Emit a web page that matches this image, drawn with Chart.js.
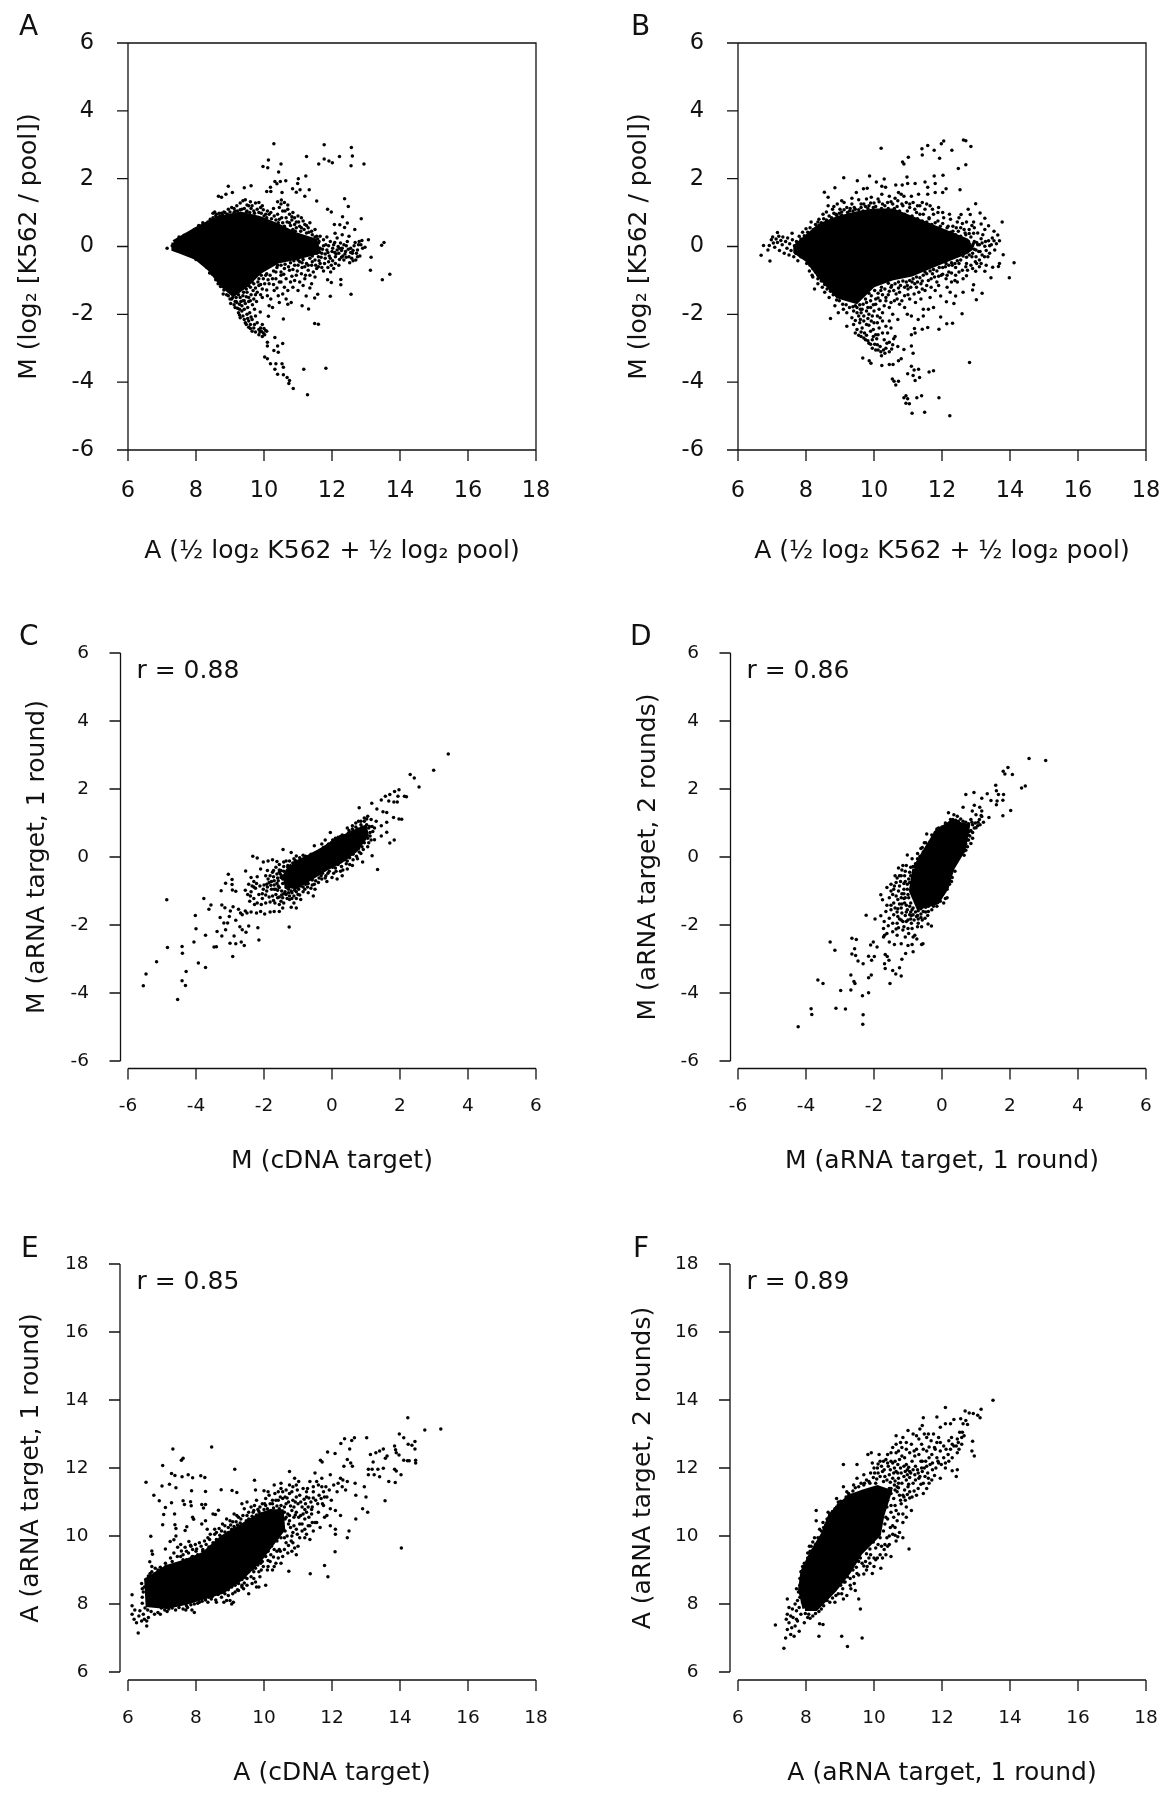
<!DOCTYPE html>
<html>
<head>
<meta charset="utf-8">
<title>MA plots</title>
<script src="https://cdn.jsdelivr.net/npm/chart.js@4/dist/chart.umd.min.js"></script>
<style>
  html, body { margin: 0; background: #fff; overflow: hidden; }
  canvas { position: absolute; }
</style>
</head>
<body>
<script>
// Tick ranges
const rangeA = [6, 18];
const rangeM = [-6, 6];

// Solid areas where the dots overlap completely are kept as traced outlines (core*),
// the dots that can still be told apart are in dots*, fringe* and extra*.
const coreA = [[7.35,.12],[8.11,.56],[8.66,.83],[9.31,.96],[9.86,.83],[10.4,.61],[10.95,.34],[11.49,.17],[11.6,-.15],[10.95,-.32],[10.4,-.43],[9.86,-.75],[9.48,-1.13],[9.1,-1.41],[8.77,-1.13],[8.39,-.64],[8,-.32],[7.57,-.15],[7.35,-.07]];
const dotsA = [[7.15,-.05],[7.3,.02],[7.4,.12],[7.45,-.1],[7.55,.2],[7.6,-.12],[7.7,.25],[7.75,-.18],[7.85,.35],[7.95,-.22],[8.05,.48],[8.1,-.3],[8.2,.55],[8.3,-.45],[8.38,-.55],[8.35,.72],[8.45,-.68],
[10.29,3.03],[11.77,3],[12.57,2.92],[12.6,2.67],[12.22,2.65],[11.25,2.65],[11.77,2.58],[11.91,2.52],[12.01,2.47],[11.61,2.43],[12.56,2.38],[12.94,2.43],[10.13,2.55],[9.97,2.36],[10.11,2.32],[10.5,2.43],[10.43,2.2],[11.23,2.08],[10.32,1.92],[10.48,1.92],[10.64,1.94],[11.01,2],[10.99,1.86],[10.38,1.85],[10.19,1.75],[10.08,1.62],[10.2,1.62],[10.53,1.59],[10.84,1.7],[11.06,1.67],[11.33,1.67],[10.95,1.6],[11.2,1.48],[11.55,1.34],[8.66,1.48],[8.95,1.78],[9.07,1.59],[8.88,1.54],[9.42,1.73],[9.62,1.79],[8.75,1.45],[10.4,1.32],[10.51,1.37],[12.37,1.41],[12.48,1.18],[12.86,.82],[11.87,1.1],[11.98,1.02],[12.31,.88],[12.45,.69],[12.07,.65],[12.23,.64],[12.67,.5],[12.37,.56],[12.09,.39],[13.07,.2],[13.53,.12],[13.46,.04],[12.97,-.02],[13.15,-.32],[13.13,-.7],[13.7,-.82],[13.48,-.98],
[11.96,-.75],[11.87,-.98],[11.98,-1.06],[12.26,-.97],[12.26,-1.13],[11.95,-1.47],[12.56,-1.41],[11.58,-1.41],[11.49,-1.52],[11.24,-1.46],[11.12,-1.75],[11.31,-1.84],[10.57,-2.14],[11.49,-2.27],[11.6,-2.29],[9.89,-1.93],[10.13,-2.06],
[10.32,-2.68],[10.55,-2.86],[10.4,-2.93],[10.1,-2.82],[10.1,-2.93],[10.29,-3.07],[10.42,-3.12],[10.02,-3.26],[10.1,-3.31],[10.19,-3.46],[10.35,-3.46],[10.53,-3.46],[10.57,-3.56],[10.32,-3.62],[10.4,-3.77],[10.57,-3.78],[10.68,-3.86],[10.75,-3.95],[10.73,-4.04],[10.86,-4.19],[11.28,-4.37],[11.17,-3.62],[11.82,-3.59],
[8.6,.95],[8.7,.9],[8.75,.98],[8.65,.78],[8.85,.85],[8.95,1.1],[9.05,1.15],[9.15,1.05],[9.2,1.2],[9.3,1.28],[9.38,1.35],[9.45,1.38],[9.5,1.22],[9.35,1.1],[9.3,.95],[9.5,1.05],[9.65,1.2],[9.75,1.28],[9.85,1.3],[9.9,1.15],[9.7,1.05],[9.85,1],[10,.9],[10.1,1.05],[10.05,.95],[10.2,1],[10.3,.9],[10.4,.95],[10.45,1.15],[10.5,1.25],[10.6,1.3],[10.55,1.05],[10.7,1.1],[10.75,.95],[10.65,.85],[10.85,1],[10.9,.85],[11,.9],[11.1,.85],[11.15,.75],[11.2,.65],[11.3,.55],[11.35,.7],[11.4,.45],[11.5,.5],[11.05,.6],[10.95,.55],[10.85,.5],[11.1,.3],[11.25,.25],[11.4,.2],[11.6,.1],[11.75,.2],[11.85,.28],[11.95,.15],[10.45,.8],[10.55,.7],[10.75,.7],[11.55,.3],[9.1,.9],[8.85,1],
[11.1,-.1],[11.2,-.25],[11.3,-.05],[11.35,-.35],[11.45,-.15],[11.5,-.4],[11.6,-.3],[11.65,-.05],[11.7,-.2],[11.8,-.35],[11.85,-.1],[11.9,.02],[12,-.15],[12.05,.05],[12.1,-.3],[12.15,-.1],[12.2,-.2],[12.25,.1],[12.3,-.05],[12.35,-.4],[12.4,-.15],[12.45,.15],[12.5,-.3],[12.55,-.05],[12.6,-.2],[12.65,.02],[12.7,-.4],[12.75,-.1],[12.8,.15],[12.85,.05],[12.9,-.05],[12.75,-.3],[12.5,.3],[12.3,.35],[12.15,.25],[11.9,-.45],[12.1,-.5],[12.2,-.55],[11.65,-.5],[11.4,-.55],[11.2,-.6],[11,-.4],[10.9,-.55],[11.3,-.7],[11.45,-.75],[11.05,-.2],[11,.05],[11.15,.1],[11.7,-.62],[11.55,-.65],
[8.8,-1.4],[8.95,-1.45],[9.05,-1.55],[9.1,-1.4],[9.2,-1.65],[9.3,-1.5],[9.35,-1.75],[9.42,-1.6],[9.5,-1.35],[9.55,-1.5],[9.6,-1.2],[9.7,-1.1],[9.8,-1.35],[9.85,-.95],[9.95,-1.25],[10.05,-.85],[10.1,-1.45],[10.15,-1.1],[10.25,-.95],[10.3,-1.3],[10.35,-.75],[10.45,-1.05],[10.5,-.85],[10.55,-1.4],[10.65,-.95],[10.65,-1.55],[10.75,-.7],[10.85,-1.2],[10.95,-.85],[10.8,-1.65],[11,-1.3],[11.1,-.8],[11.15,-1.15],[11.4,-1.1],[11.5,-.9],[10.15,-1.75],[10.25,-1.8],[10.45,-1.65],[10.7,-1.7],
[9.15,-1.8],[9.25,-1.95],[9.35,-1.9],[9.3,-2.1],[9.42,-2.15],[9.5,-2],[9.55,-2.2],[9.48,-2.3],[9.6,-2.3],[9.65,-2.15],[9.7,-2.4],[9.75,-2.05],[9.55,-2.38],[9.8,-2.25],[9.85,-2.45],[9.85,-2.6],[9.92,-2.5],[9.95,-2.3],[10,-2.42],[10.02,-2.6],[10.08,-2.5],[9.75,-2.52],[9.95,-2.65],[9.65,-2.5]];
const fringeA = [[7.5,.28],[7.65,.33],[7.8,.38],[7.95,.5],[8.08,.62],[8.2,.7],[8.3,.65],[8.42,.8],[8.5,.85],[8.58,.9],[8.68,.98],[8.78,.92],[8.82,1.02],[8.92,.95],[9,1.02],[9.12,1],[9.22,1.05],[9.3,1.08],[9.42,1.12],[9.48,1.02],[9.58,1],[9.62,1.12],[9.72,.98],[9.8,1.1],[9.92,.98],[9.98,1.08],[10.08,.85],[10.15,.95],[10.22,.82],[10.35,.78],[10.42,.7],[10.52,.85],[10.6,.6],[10.68,.72],[10.78,.62],[10.82,.78],[10.92,.45],[11.02,.72],[11.08,.45],[11.18,.5],[11.25,.4],[11.32,.42],[11.42,.35],[11.5,.28],[11.58,.22],[11.65,.3],
[11.05,-.45],[11.15,-.38],[11.25,-.5],[11.32,-.2],[11.42,-.45],[11.55,-.2],[11.62,-.42],[11.72,-.08],[11.78,-.5],[11.82,.05],[11.92,-.28],[11.98,-.55],[12.02,-.42],[12.08,-.18],[12.18,0],[12.22,-.38],[12.28,-.12],[12.32,-.28],[12.42,-.32],[12.48,-.08],[12.52,-.48],[12.58,-.35],[12.62,-.12],[12.68,.12],[12.72,-.2],[12.78,.05],[12.82,-.28],[12.88,.18],[12.05,-.65],[11.88,-.62],[11.75,-.72],[11.35,-.85],[11.22,-.85],[11.12,-.62],[10.98,-.72],[10.85,-.68],[10.72,-.6],
[10.6,-.65],[10.5,-.75],[10.38,-.62],[10.28,-.72],[10.18,-.85],[10.08,-.8],[9.98,-.95],[9.92,-.85],[9.82,-1.05],[9.72,-.92],[9.65,-1.05],[9.55,-1.15],[9.48,-1.25],[9.4,-1.35],[9.32,-1.25],[9.25,-1.42],[9.18,-1.5],[9.08,-1.5],[9,-1.55],[8.9,-1.42],[8.82,-1.28],[8.72,-1.18],[8.65,-1.1],[8.58,-.98],[8.48,-.82],[8.4,-.78],[8.32,-.62],[8.22,-.5],[8.12,-.42],[8,-.38],[7.9,-.25],[7.8,-.22],[7.65,-.18],[7.5,-.12],
[9.02,-1.68],[9.12,-1.72],[9.18,-1.62],[9.22,-1.82],[9.28,-1.7],[9.32,-1.62],[9.38,-1.45],[9.42,-1.85],[9.45,-1.68],[9.52,-1.8],[9.55,-1.62],[9.58,-1.95],[9.62,-1.42],[9.66,-1.72],[9.7,-1.55],[9.72,-1.85],[9.78,-1.62],[9.75,-1.22],[9.85,-1.15],[9.9,-1.42],[9.95,-1.5],[10.02,-1.1],[10.08,-1.28],[10.2,-1.55],[10.28,-1.12],[10.38,-1.22],[10.42,-1.45],[10.5,-1.05],[10.6,-1.2],[10.7,-1.3],[10.78,-1.05],[10.9,-1],[11.05,-1.05],[11.2,-.95],[11.35,-1.22],[9.28,-2.02],[9.38,-2.05],[9.45,-2.25],[9.52,-2.12],[9.62,-2.08],[9.72,-2.3],[9.6,-2.42],[9.9,-2.4],[9.98,-2.55],[9.88,-2.52],[10.05,-2.48]];
const extraA = [[11.05,.12],[11.12,-.3],[11.18,.22],[11.22,-.12],[11.28,.12],[11.38,.02],[11.42,-.28],[11.48,.08],[11.58,-.12],[11.62,.15],[11.68,-.32],[11.75,.02],[11.8,-.22],[11.88,-.18],[11.95,-.35],[12.02,-.05],[12.08,.12],[12.12,-.22],[12.22,-.05],[12.28,-.32],[12.35,.05],[12.38,-.22],[12.42,.02],[12.55,-.18],[12.62,-.42],[11.52,-.55],[11.6,-.6],[11.3,-.55],[11.12,-.48],[11,-.55],[10.88,-.42],[10.78,-.48],[10.62,-.52],[10.5,-.55],[10.4,-.55],[9.6,1.32],[9.12,1.12],[9.22,.92],[9.55,1.2],[9.95,1.2],[10.28,1.12],[10.62,1.05],[10.82,.88],[10.95,.72],[11.1,.55],[11.25,.62],[10.7,1.22],[10.9,.65],[8.5,.98],[8.55,1.02],[9.68,-1.3],[9.9,-1.12],[10.12,-.98],[10.35,-.95],[10.58,-.82],[10.82,-.88],[9.38,-1.6],[9.48,-1.48],[9.6,-1.6],[9.75,-1.42],[9.28,-1.85],[9.15,-1.62]];

const coreB = [[7.7,0],[8.4,.61],[8.94,.83],[9.48,.96],[9.98,1.05],[10.56,1.05],[11.1,.83],[11.64,.61],[12.18,.39],[12.72,.17],[12.85,-.05],[12.72,-.15],[12.18,-.37],[11.64,-.59],[11.1,-.81],[10.56,-.92],[9.98,-1.13],[9.48,-1.62],[8.94,-1.46],[8.4,-.86],[8.05,-.4],[7.7,-.15]];
const dotsB = [[6.68,-.26],[6.75,.03],[6.94,-.43],[7.16,.41],[7.59,.39],[6.88,-.1],[6.92,.03],[6.98,.2],[7.02,.28],[7.04,.1],[7.08,-.02],[7.12,.22],[7.16,.12],[7.2,.3],[7.22,-.12],[7.26,.18],[7.3,.05],[7.32,.28],[7.36,-.2],[7.4,.15],[7.44,-.05],[7.46,.25],[7.5,-.25],[7.52,.08],[7.56,-.12],[7.6,.2],[7.64,-.3],[7.66,.02],[7.7,-.2],[7.72,.15],[7.76,-.42],[7.8,.3],[7.85,-.3],[7.9,.42],[8,.52],[8.15,.72],[8.02,-.5],[8.1,-.72],[8.18,-.85],[8.25,-1.25],[8.35,-1.1],[8.48,-1.2],[8.38,.8],[8.5,.95],[8.65,1.2],
[10.21,2.9],[11.01,2.63],[10.84,2.49],[10.88,2.43],[11.41,2.88],[11.42,2.7],[11.58,2.98],[11.77,2.84],[11.98,3.03],[12.05,3.11],[12.29,2.84],[11.93,2.6],[12.63,3.14],[12.7,3.12],[12.85,2.95],[12.7,2.41],[12.48,2.3],[12.53,1.67],[11.77,2.08],[12.03,2.1],[9.11,2.03],[9.87,2.08],[9.51,1.94],[10.07,1.9],[10.3,1.99],[10.97,2.05],[8.54,1.6],[8.85,1.73],[10.64,1.81],[10.83,1.81],[10.99,1.86],[11.21,1.86],[11.5,1.9],[11.58,1.75],[11.8,1.86],[10.23,1.78],[10.34,1.75],[9.69,1.7],[9.8,1.72],[9.48,1.59],[10.23,1.54],[10.45,1.48],[10.72,1.59],[10.8,1.54],[10.88,1.48],[11.1,1.48],[11.31,1.54],[11.58,1.54],[11.8,1.59],[12.12,1.7],[12.02,1.59],
[13.77,.72],[12.99,1.26],[13.12,.99],[13.26,.83],[12.77,1.1],[12.83,.94],[12.56,.94],[12.45,.72],[12.72,.72],[12.93,.72],[13.15,.66],[13.37,.61],[13.26,.5],[13.53,.45],[13.64,.34],[13.69,.17],[13.53,.17],[13.37,.17],[13.15,.23],[12.93,.39],[13.26,.01],[13.8,-.24],[14.12,-.48],[13.98,-.92],[13.69,-.5],[13.66,-.59],[13.49,-.61],[13.44,-.92],[13.26,-.73],[12.99,-.73],[12.93,-1.13],[12.9,-1.28],[13.01,-1.57],[13.18,-1.38],[12.72,-.86],[12.59,-1.98],[12.62,-1.35],[12.4,-1.46],[12.24,-1.35],[12.35,-1.68],[12.13,-1.63],[11.96,-1.46],[12.31,-2.26],[12.14,-2.28],[11.96,-2.08],[11.91,-2.44],[11.58,-2.39],[11.42,-2.44],[11.21,-2.55],[11.19,-2.42],[11.1,-2.6],[12.81,-3.42],
[12.23,-4.99],[11.91,-4.46],[11.49,-4.89],[11.12,-4.92],[11.4,-4.4],[11.26,-4.46],[10.94,-4.4],[10.99,-4.49],[10.94,-4.62],[11.04,-4.64],[10.88,-4.46],[10.54,-3.91],[10.59,-3.97],[10.64,-4.08],[10.72,-3.97],[11.1,-3.53],[11.18,-3.64],[11.31,-3.62],[11.15,-3.8],[11.34,-3.86],[11.21,-3.95],[10.99,-3.75],[11.62,-3.7],[11.75,-3.66],[11.1,-2.93],[10.88,-3.04],[11.15,-3.15],[10.8,-3.31],[10.72,-3.37],[10.45,-3.48],[10.23,-3.51],[9.91,-3.44],[9.86,-3.37],[9.67,-3.29],[10.56,-3.48],
[8.65,1.45],[8.78,1.1],[8.88,.95],[8.92,1.25],[9,1.1],[9.05,1.02],[9.12,1.3],[9.2,1.15],[9.28,1.05],[9.35,1.25],[9.42,1.15],[9.55,1.38],[9.62,1.15],[9.7,1.25],[9.78,1.4],[9.85,1.2],[9.92,1.45],[10,1.28],[10.12,1.4],[10.25,1.25],[10.4,1.3],[10.55,1.25],[10.7,1.35],[10.85,1.2],[10.95,1.3],[11.05,1.15],[11.15,1.3],[11.25,1],[11.35,1.2],[11.45,.95],[11.55,1.25],[11.62,.85],[11.72,1.1],[11.8,.7],[11.88,1],[11.95,.6],[12.05,.85],[12.15,.55],[12.25,.8],[12.32,.45],[12.4,.35],[12.55,.55],[12.68,.4],[12.8,.5],[12.95,.15],[13.05,.05],[12.9,-.2],[13,-.3],[13.12,-.15],[13.25,-.3],[13.4,-.2],[13.55,-.1],
[8.2,-.9],[8.35,-.85],[8.55,-1.35],[8.68,-1.5],[8.72,-2.12],[8.85,-1.75],[8.95,-1.95],[9.1,-1.85],[9.2,-2.35],[9.2,-1.95],[12.1,-.6],[12.2,-.75],[12.3,-.55],[12.4,-.85],[12.5,-.5],[12.6,-.7],[12.72,-.5],[12.85,-.55],[12.45,-1.05],[12.28,-1.05],[12.12,-.95],[11.98,-.85],[11.85,-1.05],[11.72,-.8],[11.6,-1],[11.5,-.75],[11.38,-1.1],[11.25,-1.2],[11.12,-1.05],[11,-1.25],[10.9,-1.45],[10.78,-1.15],[10.65,-1.4],[10.5,-1.2],[10.35,-1.5],[10.2,-1.3],[10.05,-1.55],[9.9,-1.6],[9.75,-1.55],[9.6,-1.85],[9.45,-1.75],[11.8,-1.3],[11.65,-1.5],[11.5,-1.3],[11.38,-1.55],[11.22,-1.65],[11.45,-1.85],[11.6,-1.85],[11.75,-1.8],[11.05,-1.55],[10.9,-1.8],[10.75,-1.7],[10.6,-1.6],[10.45,-1.8],[10.3,-1.75],[10.15,-1.85],[11.1,-2.05],[10.98,-2],[11.3,-2.15],[11.45,-2.05],[10.7,-2.15],[10.55,-2],[10.45,-2.2],
[9.35,-2.1],[9.4,-2.3],[9.5,-2.45],[9.6,-2.15],[9.65,-2.4],[9.72,-2.55],[9.78,-2.3],[9.85,-2],[9.9,-2.5],[9.95,-2.75],[10,-2.25],[10.05,-2.6],[10.1,-2.9],[10.15,-2.4],[10.2,-3.1],[10.25,-2.2],[10.3,-2.75],[10.35,-3],[10.4,-2.55],[10.45,-3.1],[10.5,-2.4],[10.55,-2.9],[10.62,-2.65],[10.7,-2.95],[9.75,-2.75],[9.85,-2.85],[9.95,-3],[10.05,-3.05]];
const fringeB = [[7.75,.12],[7.85,.22],[7.95,.32],[8.05,.42],[8.12,.55],[8.22,.5],[8.28,.65],[8.35,.72],[8.45,.7],[8.52,.82],[8.6,.78],[8.68,.9],[8.75,.85],[8.82,.98],[8.9,.92],[8.98,.98],[9.05,.92],[9.12,1.08],[9.22,1],[9.3,1.12],[9.38,1.05],[9.45,1.1],[9.55,1.08],[9.62,1.25],[9.68,1.05],[9.75,1.18],[9.82,1.12],[9.9,1.28],[9.98,1.15],[10.05,1.18],[10.15,1.32],[10.22,1.12],[10.32,1.2],[10.42,1.12],[10.5,1.32],[10.6,1.12],[10.68,1.18],[10.75,1.05],[10.82,1.25],[10.9,.95],[10.98,1.05],[11.05,1.25],[11.12,.9],[11.2,1.1],[11.28,.82],[11.35,.95],[11.42,.75],[11.5,1.1],[11.55,.72],[11.62,.82],[11.7,.65],[11.75,.95],[11.82,.55],[11.88,.75],[11.95,.5],[12.02,.68],[12.1,.45],[12.18,.6],[12.25,.42],[12.32,.6],[12.4,.28],[12.48,.45],[12.55,.3],[12.62,.22],[12.7,.35],[12.78,.15],[12.85,.28],[12.92,.08],
[12.95,-.08],[13.02,.12],[13.08,-.15],[13.18,.1],[13.3,-.12],[13.45,.05],[13.1,-.4],[12.98,-.45],[12.88,-.3],[12.8,-.25],[12.72,-.32],[12.62,-.28],[12.55,-.4],[12.45,-.42],[12.38,-.5],[12.28,-.48],[12.2,-.55],[12.12,-.5],[12.02,-.62],[11.92,-.62],[11.85,-.72],[11.75,-.68],[11.65,-.72],[11.55,-.8],[11.45,-.85],[11.35,-.92],[11.25,-.9],[11.15,-.95],[11.05,-1],[10.95,-1.05],[10.85,-1.02],[10.72,-1.05],[10.62,-1.1],[10.52,-1.15],[10.42,-1.08],[10.32,-1.25],[10.22,-1.2],[10.12,-1.38],[10.02,-1.3],[9.92,-1.45],[9.85,-1.38],[9.78,-1.65],[9.68,-1.7],[9.58,-1.72],[9.5,-1.8],[9.38,-1.78],[9.28,-1.8],[9.18,-1.72],[9.08,-1.7],[8.98,-1.6],[8.9,-1.58],[8.8,-1.42],[8.72,-1.32],[8.62,-1.25],[8.55,-1.12],[8.45,-1.02],[8.35,-.95],[8.28,-.75],[8.2,-.65],[8.12,-.55],[8.02,-.4],[7.92,-.3],[7.82,-.25],
[9.4,-1.9],[9.5,-1.95],[9.55,-2.05],[9.62,-1.95],[9.7,-2.05],[9.78,-1.9],[9.82,-2.12],[9.9,-1.8],[9.95,-2.05],[10,-1.9],[10.05,-1.7],[10.1,-2.05],[10.18,-1.6],[10.25,-1.95],[10.35,-1.6],[10.42,-1.42],[10.5,-1.65],[10.58,-1.3],[10.68,-1.55],[10.75,-1.35],[10.82,-1.6],[10.9,-1.2],[11,-1.42],[11.08,-1.2],[11.18,-1.4],[11.28,-1.05],[11.32,-1.35],[11.42,-1.25],[11.55,-1.15],[11.68,-1.2],[11.78,-.9],[11.9,-1.15],[12.02,-.82],[12.15,-1.2],[12.28,-.78],[12.38,-1],[12.5,-.75],[12.62,-.95],[12.75,-.7],[12.9,-.65],[13.1,-.6],[13.3,-.55],
[9.45,-2.55],[9.55,-2.62],[9.62,-2.65],[9.7,-2.7],[9.78,-2.62],[9.82,-2.78],[9.9,-2.88],[9.98,-2.65],[10.02,-2.88],[10.08,-2.72],[10.12,-3.05],[10.18,-2.95],[10.22,-3.22],[10.28,-3.05],[10.32,-3.15],[10.38,-2.85],[10.45,-2.82],[10.52,-3.02],[10.58,-2.72]];
const extraB = [[12.9,.02],[13,-.1],[13.1,.05],[13.18,-.25],[13.28,.15],[13.35,-.3],[13.4,.02],[13.48,.25],[13.6,.08],[13.2,.35],[13.05,.4],[12.95,.55],[13.02,-.5],[13.15,-.5],[12.65,.5],[12.8,.38],[12.88,.62],[12.6,.68],[12.42,.55],[12.5,.85],[12.22,.95],[12.02,1],[11.9,1.15],[11.65,1.2],[11.42,1.3],[11.28,1.2],[10.62,1.42],[9.35,1.42],[9.05,1.35],[8.82,1.18],[8.6,1.02],[12.7,-.6],[12.4,-.62],[12.15,-.85],[11.9,-.88],[11.68,-.95],[11.42,-1.02],[11.2,-1.1],[10.98,-1.15],[10.72,-1.22],[10.45,-1.32],[10.25,-1.42],[10.12,-1.52],[9.98,-1.72],[9.82,-1.8],[9.65,-1.85],[9.7,-2.2],[9.58,-2.25],[9.45,-2.18],[9.92,-2.2],[10.1,-2.25],[10.18,-2.1],[9.85,-2.32],[9.98,-2.45],[10.12,-2.6],[10.25,-2.55],[9.62,-2.52],[10.35,-2.35]];

const coreC = [[-1.17,-.23],[-.73,-.03],[-.29,.21],[.14,.48],[.58,.7],[.96,.86],[1.01,.64],[.69,.21],[.25,-.12],[-.19,-.34],[-.62,-.61],[-1.06,-.88],[-1.33,-.83],[-1.38,-.56]];
const dotsC = [[3.42,3.03],[2.99,2.55],[2.3,2.43],[2.42,2.32],[2.56,2.06],[1.97,1.98],[1.84,1.93],[1.7,1.84],[1.57,1.79],[1.45,1.68],[2.13,1.79],[2.19,1.77],[1.94,1.79],[1.82,1.62],[1.92,1.62],[1.67,1.65],[1.17,1.58],[1.32,1.41],[.8,1.45],[1.5,1.33],[1.61,1.31],[1.81,1.16],[1.97,1.12],[2.05,1.11],[1.61,1.02],[1.45,.92],[1.61,.73],[1.45,.62],[1.83,.5],[1.7,.41],[1.25,.51],[1.18,.04],[1.34,-.37],[.9,-.15],
[-4.86,-1.26],[-5.55,-3.79],[-5.47,-3.44],[-5.16,-3.08],[-4.84,-2.66],[-4.41,-2.63],[-4.4,-2.83],[-4.29,-3.37],[-4.41,-3.64],[-4.31,-3.78],[-4.54,-4.19],[-3.93,-3.12],[-3.72,-3.25],[-4.06,-2.5],[-4,-2.11],[-4.02,-1.72],[-3.77,-1.22],[-3.72,-2.3],[-3.62,-1.54],[-3.56,-1.41],[-3.47,-2.65],[-3.4,-2.64],[-3.38,-2.19],[-3.24,-2.32],[-3.29,-1.78],[-3.24,-1.41],[-3.15,-1.49],[-3.26,-.99],[-3.13,-.77],[-3.05,-.51],[-2.94,-.66],[-2.94,-.81],[-2.93,-.97],[-2.83,-1.01],[-3.18,-1.94],[-3.07,-1.94],[-3.13,-2.14],[-3.02,-1.75],[-2.99,-1.59],[-2.91,-1.46],[-3,-2.54],[-2.83,-2.55],[-2.88,-2.32],[-2.92,-2.93],[-2.83,-1.86],[-2.71,-2.05],[-2.67,-2.5],[-2.58,-2.6],[-2.64,-2.14],[-2.53,-2.21],[-2.45,-2.03],[-2.18,-2.08],[-2.15,-2.44],[-1.26,-2.06],[-2.69,-1.65],[-2.75,-1.54],[-2.64,-1.7],[-2.55,-1.59],
[-2.33,.02],[-2.2,-.03],[-2.54,-.41],[-2.38,-.6],[-2.3,-.72],[-2.2,-.58],[-2.1,-.35],[-2.02,-.15],[-1.88,-.12],[-1.75,-.08],[-1.62,-.13],[-1.44,.22],[-1.2,.13],[-1.05,.03],[-.85,.05],[-.52,.33],[-.3,.38],[-.05,.72],[.1,.55],[.15,.35],[-1.9,-.4],[-1.82,-.55],[-1.75,-.45],[-1.65,-.3],[-1.55,-.38],[-1.42,-.15],[-1.3,-.25],[-1.12,-.05],[-2.45,-.8],[-2.35,-.85],[-2.25,-.92],[-2.12,-.85],[-2,-.82],[-1.9,-.88],[-1.8,-.83],[-1.7,-.7],[-1.6,-.62],[-2.55,-.98],[-2.48,-1.1],[-2.4,-1.15],[-2.3,-1.22],[-2.42,-1.3],[-2.28,-1.4],[-2.15,-1.1],[-2.05,-1.08],[-1.95,-1.12],[-1.85,-1.18],[-1.75,-1.15],[-1.65,-1.1],[-1.55,-1.18],[-1.45,-1.2],[-1.35,-1.1],[-1.25,-1.15],[-1.12,-1.15],[-1,-1.1],[-.85,-1.02],[-.7,-1.05],[-.55,-1.15],[-.5,-.95],[-2.2,-1.35],[-2.08,-1.4],[-1.95,-1.35],[-1.82,-1.32],[-1.68,-1.35],[-1.55,-1.4],[-1.42,-1.35],[-1.25,-1.25],[-1.12,-1.35],[-1.05,-1.5],[-1.2,-1.48],[-1.45,-1.5],[-1.7,-1.6],[-1.55,-1.6],[-1.82,-1.62],[-1.98,-1.68],[-2.1,-1.6],[-2.22,-1.65],[-2.38,-1.62],[-2.5,-1.65],[-.3,-.65],[-.15,-.72],[0,-.6],[.15,-.65],[.3,-.55],[.45,-.35],[.6,-.25],[.75,-.05],[.85,.1],[1.05,.3],[1.15,.5],[1.2,.75],[1.3,1.05],[1.15,1.1],[1.05,1.2],[.95,1.15],[.85,1.05],[.7,1],[1.1,.9],[1.25,.85],[-.2,.5],[.3,.65],[.45,.85],[.6,.92],[-1.5,-.6],[-1.58,-.85],[-1.48,-1],[-1.7,-.95]];
const fringeC = [[-1.42,-.42],[-1.38,-.65],[-1.45,-.78],[-1.48,-.55],[-1.3,-.3],[-1.28,-.95],[-1.2,-1],[-1.15,-.18],[-1.1,-.98],[-1.02,-.15],[-.98,-.95],[-.9,-.08],[-.92,-.85],[-.82,-.12],[-.78,-.8],[-.7,0],[-.7,-.78],[-.6,-.02],[-.58,-.82],[-.5,.1],[-.48,-.7],[-.42,.03],[-.38,-.62],[-.32,.22],[-.25,.28],[-.28,-.48],[-.18,.25],[-.18,-.55],[-.1,.38],[-.08,-.42],[-.02,.42],[.02,-.3],[.08,.5],[.1,-.32],[.18,.58],[.18,-.22],[.25,.6],[.28,-.28],[.32,.52],[.38,-.08],[.42,.62],[.45,-.12],[.5,.78],[.52,-.02],[.6,.82],[.62,.08],[.7,.88],[.72,.02],[.78,1.05],[.78,.25],[.85,.95],[.88,.3],[.95,1.05],[.95,.42],[1.02,1.12],[1.05,.55],[1.08,.85],[1.12,.72],[1.18,.9],[.85,.62],[-1.62,-.78],[-1.72,-.58],[-1.55,-.9],[-1.65,-.95],[-1.52,-.5],[-1.78,-.72],[-1.88,-.65],[-1.38,-1.02],[-1.28,-1.05],[-1.18,-1.05],[-1.05,-1.02],[-.95,-1.12],[-.8,-.95],[-.62,-.92],[-1.6,-.98],[-1.92,-1],[-2.02,-.95],[-2.22,-.78],[-2.3,-.88],[-2.38,-1.02],[-2.05,-1.22],[-1.72,-1.28],[-1.5,-1.3],[-.4,-.75],[-.2,-.62],[.05,-.48],[.25,-.42],[.42,-.2],[-1.35,-.12],[-1.55,-.22],[-1.25,-.12]];
const extraC = [[-1.95,-.55],[-1.85,-.75],[-1.78,-.95],[-1.92,-.8],[-1.7,-.82],[-1.62,-.5],[-1.72,-.4],[-1.58,-.7],[-1.45,-.65],[-1.5,-.4],[-1.42,-1.08],[-1.35,-.9],[-1.32,-.4],[-1.22,-.35],[-1.12,-.3],[-1.6,-1.2],[-1.48,-1.12],[-1.32,-1.22],[-1.18,-1.22],[-1.05,-1.22],[-.92,-1.25],[-.85,-.88],[-.72,-.88],[-.52,-.8],[-.58,-.68],[-.32,-.55],[-.12,-.48],[.12,-.42],[.32,-.38],[.52,-.22],[.62,-.08],[.8,.15],[.92,.22],[1.08,.42],[1.12,.62],[.95,.72],[1.02,.95],[.88,.88],[.75,.82],[.62,.75],[.48,.7],[.35,.62],[.02,.5],[-.12,.35],[-.38,.12],[-.62,.08],[-.78,.02],[-.95,-.02],[-1.08,-.1],[-1.42,-.28],[-1.55,-.45]];

const coreD = [[-.8,-.34],[-.47,.21],[-.14,.75],[.29,1.02],[.75,.9],[.62,.21],[.29,-.34],[.13,-.88],[-.14,-1.32],[-.69,-1.48],[-.9,-.99]];
const dotsD = [[2.56,2.9],[3.05,2.84],[1.94,2.63],[1.8,2.52],[1.85,2.44],[2.07,2.43],[2.45,2.09],[2.34,2.03],[1.58,2.11],[1.6,1.95],[1.66,1.84],[1.81,1.84],[1.33,1.86],[.94,1.9],[.7,1.84],[1.17,1.73],[1.44,1.66],[1.62,1.65],[1.79,1.67],[1.6,1.54],[2.02,1.37],[1.79,1.21],[1.38,1.16],[1.11,1.46],[.95,1.52],[1.17,1.35],[.89,1.35],[1,1.24],[1.17,1.19],[1.06,1.02],[1.22,1.02],[1,.86],[.19,1.3],[.35,1.24],[.62,1.46],[.85,1.1],[.9,.95],[.8,.75],[.75,.5],[.7,.2],[.45,1.2],[.25,1.1],[.1,1],[-.1,.85],[-.2,.72],[-.45,.68],[-.3,.65],[-.52,.42],[-.62,.25],[-1.02,.06],[-.88,-.05],[-.72,.1],
[-4.23,-4.99],[-3.85,-4.46],[-3.83,-4.63],[-3.65,-3.62],[-3.5,-3.72],[-3.29,-2.5],[-3.15,-2.74],[-2.98,-3.93],[-3.12,-4.45],[-2.84,-4.47],[-2.68,-3.91],[-2.68,-3.47],[-2.59,-3.66],[-2.56,-3.72],[-2.65,-2.39],[-2.52,-2.43],[-2.57,-2.7],[-2.65,-2.85],[-2.54,-2.9],[-2.47,-3.06],[-2.32,-3.14],[-2.34,-4.08],[-2.32,-4.64],[-2.33,-4.92],[-2.16,-3.99],[-2.16,-3.55],[-2.08,-3.47],[-2.1,-2.59],[-2.02,-2.5],[-1.91,-2.65],[-2.16,-2.92],[-2.07,-3.04],[-1.99,-2.93],[-2.23,-1.71],[-1.97,-1.82],[-1.8,-1.11],[-1.75,-1.26],[-1.8,-1.73],[-1.72,-2.1],[-1.69,-2.3],[-1.72,-2.35],[-1.67,-2.87],[-1.69,-3.14],[-1.67,-3.28],[-1.53,-3.72],[-1.56,-3.04],[-1.61,-2.93],[-1.45,-3.34],[-1.36,-3.44],[-1.2,-3.5],[-1.25,-3.26],[-1.4,-2.57],[-1.18,-3.01],[-1.07,-2.84],[-.85,-2.79],[-.88,-2.57],[-.6,-2.57],[-.56,-2.55],[-.85,-2.35],[-.74,-2.41],[-.8,-2.3],[-.41,-1.97],[-.31,-2.03],
[-1.5,-.8],[-1.42,-.95],[-1.35,-1.15],[-1.55,-1.2],[-1.62,-1.42],[-1.5,-1.55],[-1.42,-1.35],[-1.3,-1.52],[-1.2,-1.2],[-1.12,-.95],[-1.02,-.8],[-1.1,-.55],[-1.18,-.38],[-1.05,-.25],[-.95,-.45],[-.98,-.65],[-.9,-.9],[-1,-1.1],[-1.1,-1.35],[-1.2,-1.5],[-1.3,-1.75],[-1.42,-1.7],[-1.55,-1.8],[-1.65,-1.6],[-1.7,-1.9],[-1.58,-2.02],[-1.45,-1.95],[-1.32,-1.95],[-1.2,-1.85],[-1.12,-2.05],[-1,-2.1],[-.9,-1.95],[-.95,-1.7],[-1.02,-1.55],[-.88,-1.55],[-.75,-1.75],[-.62,-1.68],[-.5,-1.8],[-.4,-1.6],[-.25,-1.45],[-.12,-1.25],[.02,-1.1],[.15,-.95],[.15,-1.2],[.22,-.8],[.05,-.85],[-1.45,-2.2],[-1.55,-2.5],[-1.32,-2.3],[-1.2,-2.55],[-1.08,-2.35],[-1,-2.6],[-.6,-2.05],[-.72,-2.05],[.3,-.35],[.45,-.05],[.55,.1],[.65,.05],[.4,.15],[.78,.65],[.9,.55],[.85,.4],[.62,.25]];
const fringeD = [[-.95,-.75],[-.92,-.55],[-1.02,-.95],[-.98,-1.2],[-.92,-1.35],[-.85,-1.5],[-.78,-1.62],[-.7,-1.58],[-.62,-1.52],[-.55,-1.6],[-.48,-1.48],[-.4,-1.45],[-.32,-1.4],[-.25,-1.28],[-.18,-1.35],[-.1,-1.15],[-.05,-1.02],[.02,-.92],[.08,-.75],[.15,-.72],[.2,-.55],[.25,-.48],[.32,-.28],[.38,-.2],[.42,-.08],[.48,.02],[.52,.12],[.6,.28],[.65,.18],[.7,.38],[.75,.3],[.78,.5],[.82,.62],[.85,.78],[.9,.72],[.95,.85],[.98,1],[1.05,.92],[1.1,1.1],[1.12,.95],[1.15,1.22],[.88,1.02],[.78,.98],[.7,1.02],[.62,1.05],[.55,1.12],[.48,1.05],[.4,1.08],[.32,1.1],[.22,1],[.15,.95],[.08,.9],[0,.88],[-.08,.7],[-.15,.82],[-.22,.62],[-.28,.52],[-.35,.45],[-.42,.32],[-.48,.42],[-.55,.15],[-.58,.28],[-.65,.02],[-.72,-.05],[-.78,-.2],[-.85,-.28],[-.92,-.3],[-1.08,-.72],[-1.12,-1.08],[-1.22,-.72],[-1.15,-.25],[-1.25,-.55],[-1.35,-.75],[-1.28,-1],[-1.08,-1.2],[-1.18,-1.38],[-.95,-1.45],[-.9,-1.72],[-.82,-1.85],[-.72,-1.72],[-.7,-1.95],[-.58,-1.85],[-.48,-1.62],[-1.05,-1.9],[-1.15,-2.15],[-1.28,-2.08],[-.98,-2.25],[-.88,-2.1],[-1.08,-1.72],[-1.35,-2.12],[-1.62,-2.25],[-1.5,-1.42],[-1.38,-.55],[-1.28,-.32],[-1.5,-1],[-1.62,-.9],[.1,-1.22],[.05,-1.35],[.3,-.6]];
const extraD = [[-1.08,-.42],[-1.12,-.78],[-1.2,-.55],[-1.25,-.85],[-1.32,-.62],[-1.4,-.85],[-1.45,-1.1],[-1.3,-1.25],[-1.18,-1.08],[-1.12,-1.22],[-1.05,-1.42],[-1.25,-1.38],[-1.38,-1.5],[-1.32,-1.62],[-1.18,-1.65],[-1.05,-1.62],[-.92,-1.62],[-.85,-1.7],[-.7,-1.82],[-.62,-1.78],[-.42,-1.72],[-.3,-1.55],[-.05,-1.3],[-.15,-1.45],[.08,-1.02],[.28,-.72],[.38,-.42],[-1,-1.85],[-.92,-1.82],[-1.15,-1.9],[-1.25,-1.82]];

const coreE = [[6.55,8.7],[7.13,9.07],[7.68,9.24],[8.22,9.46],[8.77,9.95],[9.31,10.27],[9.86,10.6],[10.19,10.71],[10.51,10.71],[10.55,10.2],[10.19,9.73],[9.86,9.29],[9.31,8.75],[8.77,8.37],[8.22,8.2],[7.68,8.04],[7.13,7.93],[6.59,7.98]];
const dotsE = [[15.2,13.15],[14.73,13.12],[14.23,13.48],[13.98,13],[14.11,12.89],[14.44,12.78],[14.24,12.7],[14.35,12.67],[14.44,12.56],[13.84,12.65],[13.87,12.54],[13.89,12.45],[13.97,12.38],[14.11,12.23],[14.22,12.21],[14.27,12.21],[14.46,12.23],[14.46,12.15],[14.03,11.8],[13.84,11.96],[13.89,11.91],[13.67,11.6],[13.86,11.57],[13.56,11.04],[14.04,9.65],[13.02,12.89],[13.13,12.4],[13.21,12.18],[13.29,12.45],[13.4,12.5],[13.51,12.56],[13.57,12.29],[13.62,12.35],[13.07,11.96],[13.18,11.96],[13.07,11.8],[13.24,11.8],[13.35,11.96],[13.51,11.99],[13.4,11.74],[12.66,12.89],[12.58,12.81],[12.37,12.86],[12.52,12.56],[12.26,12.72],[12.09,12.43],[11.87,12.47],[11.66,12.23],[11.71,12.18],[12.45,12.25],[12.55,12.15],[12.35,12.05],[12.6,12.05],
[6.53,11.58],[7.02,12.07],[7.32,12.56],[8.46,12.62],[7.62,12.29],[7.57,12.23],[9.14,11.96],[9.72,11.64],[7.28,11.84],[7.38,11.78],[7.59,11.74],[7.77,11.8],[7.9,11.71],[8.14,11.77],[8.26,11.72],[7,11.47],[7.22,11.52],[7.41,11.42],[6.76,11.2],[6.92,11.04],[7.28,10.98],[7.1,10.84],[7.62,11.04],[7.66,10.93],[7.84,11.01],[7.86,10.89],[7.87,11.33],[8.28,11.31],[8.74,11.36],[9.06,11.34],[9.2,11.28],[8.17,10.93],[8.28,10.93],[8.22,10.82],[8.66,10.76],[8.5,10.65],[8.57,10.63],[7.05,10.63],[7.37,10.65],[7.02,10.33],[7.38,10.33],[7.9,10.55],[7.93,10.49],[7.73,10.27],[7.68,10.16],[8.17,10.35],[8.28,10.45],[8.33,10.2],[6.67,9.99],[6.7,9.56],[6.72,9.46],[6.64,9.24],[7.1,9.62],[7.24,9.84],[7.35,9.89],[7.46,9.67],[7.57,9.56],[7.68,9.67],[7.79,9.84],[7.84,9.73],[7.41,10.22],[7.41,10],[9.12,10.65],[9.2,10.6],[9.35,10.95],[9.5,11],[9.75,11.35],[10,11.33],[10.15,11.2],[10.3,11.5],[10.5,11.4],
[8.85,10.3],[9,10.45],[8.55,10.2],[8.4,9.9],[8.2,9.6],[8,9.55],[8.1,9.8],[7.9,9.4],[9.55,10.5],[9.7,10.75],[9.9,10.65],[10.05,10.9],[10.2,10.75],[10.35,11.05],[10.45,10.8],[10.55,11.1],[10.65,10.95],[10.75,11.25],[10.85,11.05],[10.95,11.5],[11.05,11.2],[10.9,11.7],[10.75,11.9],[11.15,11.4],[11.25,11.15],[11.35,11.6],[11.45,11.3],[11.5,11.85],[11.6,11.5],[11.7,11.7],[11.75,11.3],[11.85,11.15],[11.95,11.8],[12.05,11.5],[12.15,11.3],[12.25,11.7],[12.3,11.45],[12.45,11.6],[12.68,11.55],[12.7,11.2],[12.95,11.45],[13,11.15],[12.9,10.8],[13.05,10.7],[12.7,10.5],[12.5,10.15],[12.45,9.95],[12.25,10.6],[12.1,10.2],[12.1,10.05],[11.95,10.8],[11.85,10.6],[11.75,10.9],[11.6,10.7],[11.5,10.4],[11.4,10.65],[11.3,10.3],[11.2,10.5],[11.05,10.35],[11.05,9.95],[10.95,10.7],[10.85,10.1],[10.75,10.45],[10.65,9.8],[10.55,10.25],[10.45,9.6],[10.4,9.95],[10.3,9.1],[10.2,9.45],[10.1,9],[9.95,9.25],[9.85,8.95],[9.7,8.95],[9.5,8.75],[9.35,8.5],[9.15,8.35],[9,8.1],[9.55,8.3],[9.35,8.55],[8.95,8.25],[8.75,8.35],[8.45,8.15],[8.5,8.3],[8.1,8.05],[7.95,7.75],[7.75,7.9],[6.95,7.7],[7.15,7.78],[6.55,7.35],
[6.12,7.7],[6.18,7.55],[6.2,7.82],[6.25,7.45],[6.3,7.15],[6.32,7.65],[6.35,7.8],[6.4,7.5],[6.45,7.7],[6.48,7.55],[6.55,7.5],[6.6,7.6],[6.12,8.27],[6.12,7.95],[6.4,8.6],[6.42,8.2],[6.65,8.9],[6.8,9.05],[6.9,8.9],[11.36,8.89],[11.78,9.13],[11.88,8.8],[12.09,9.54],[10.73,8.96],[10.5,9.2],[10.95,9.45],[11,9.7],[10.7,9.5],[10.85,9.8],[11.2,9.95],[11.35,10.3],[10.05,8.55],[9.85,8.5],[10.25,9],[9.7,8.75]];
const fringeE = [[6.42,8.02],[6.5,7.88],[6.58,7.82],[6.68,7.78],[6.45,8.35],[6.48,8.5],[6.42,8.45],[6.52,8.72],[6.6,8.82],[6.7,8.95],[6.78,8.88],[6.88,9],[6.95,9.08],[7.05,8.98],[7.12,9.12],[7.22,9.05],[7.3,9.12],[7.38,9.05],[7.45,9.15],[7.52,9.2],[7.62,9.3],[7.72,9.3],[7.8,9.25],[7.88,9.38],[7.95,9.32],[8.05,9.45],[8.12,9.38],[8.2,9.55],[8.3,9.52],[8.38,9.68],[8.45,9.62],[8.5,9.8],[8.6,9.9],[8.7,10.02],[8.78,9.98],[8.85,10.12],[8.95,10.1],[9.05,10.2],[9.12,10.28],[9.22,10.32],[9.3,10.38],[9.4,10.3],[9.48,10.45],[9.58,10.38],[9.65,10.58],[9.78,10.62],[9.85,10.72],[9.92,10.6],[10,10.78],[10.1,10.8],[10.18,10.95],[10.28,10.82],[10.38,10.88],[10.5,10.9],[10.6,10.7],[10.62,10.5],[10.7,10.65],[10.72,10.35],[10.62,10.15],[10.68,10],[10.5,9.95],[10.38,9.85],[10.3,9.6],[10.22,9.7],[10.12,9.55],[10.05,9.4],[9.98,9.5],[9.9,9.2],[9.82,9.15],[9.75,9.05],[9.65,9.02],[9.55,8.95],[9.45,8.78],[9.35,8.72],[9.25,8.6],[9.15,8.55],[9.05,8.5],[8.95,8.42],[8.85,8.3],[8.75,8.2],[8.65,8.28],[8.58,8.12],[8.48,8.22],[8.38,8.2],[8.28,8.12],[8.18,8.08],[8.05,8.02],[7.95,8],[7.85,7.98],[7.72,7.95],[7.62,7.85],[7.5,7.9],[7.4,7.82],[7.3,7.88],[7.2,7.85],[7.08,7.82],[6.98,7.88],[6.88,7.75],[6.78,7.7],
[7.25,9.35],[7.35,9.5],[7.45,9.4],[7.55,9.75],[7.62,9.45],[7.72,9.55],[7.78,9.5],[7.9,9.6],[7.98,9.75],[8.15,9.7],[8.25,9.85],[8.35,9.95],[8.42,10.05],[8.55,10.05],[8.68,10.22],[8.78,10.35],[8.9,10.5],[8.95,10.25],[9.08,10.42],[9.25,10.55],[9.38,10.6],[9.42,10.8],[9.55,10.7],[9.62,10.85],[9.72,10.9],[9.78,11.05],[9.88,10.85],[9.95,10.95],[10.05,11.1],[10.12,11.3],[10.25,11.05],[10.32,11.25],[10.42,11.3],[10.55,11.3],[10.62,11.15],[10.72,11],[10.82,11.3],[10.82,10.75],[10.88,10.55],[10.92,11],[10.98,11.35],[11.02,11.6],[11.08,11],[11.12,10.85],[11.22,10.95],[11.28,11.4],[11.38,11],[11.42,10.85],[11.52,11.05],[11.55,11.6],[11.62,11.2],[11.72,10.95],[11.82,11.45],[11.92,11.35],[11.98,11.05],[12.1,10.75],[12.18,11.55],[12.32,11.65],[12.4,11.35],
[10.8,9.85],[10.9,9.65],[10.82,9.55],[10.6,9.6],[10.55,9.4],[10.42,9.35],[10.35,9.2],[10.18,9.25],[10.12,9.1],[9.98,9.1],[9.88,8.8],[9.75,8.65],[9.65,8.6],[9.78,8.5],[9.5,8.55],[9.4,8.45],[9.25,8.4],[9.08,8.3],[8.9,8.1],[8.82,8.05],[9.05,8],[9.1,8.05],[8.6,8.05],[8.35,8.05],[7.88,7.82],[7.7,7.82],[11.12,10.15],[11.25,10.05],[11.35,9.9],[11.45,10.15],[11.55,10.4],[11.65,10.25],[11.78,10.55],[11.95,10.3],[10.95,10.2],[11.02,10.55],[11.15,10.65],[11.25,10.7]];
const extraE = [[10.25,10.95],[10.42,11.05],[10.48,11.15],[10.6,10.85],[10.68,11.12],[10.78,10.88],[10.88,10.85],[10.92,10.62],[11,10.95],[11.08,10.6],[11.18,11.08],[11.2,10.78],[11.3,10.85],[11.32,11.12],[11.4,10.78],[11.45,11.12],[11.58,10.95],[11.68,11.1],[11.7,11.45],[11.78,11.15],[11.45,11.45],[11.25,11.3],[10.75,11.5],[10.85,11.45],[10.95,11.15],[10.5,11.55],[10.65,11.35],[10.88,10.3],[10.98,10.05],[10.78,10.25],[10.82,10],[10.65,10.55],[10.75,10.6],[11.12,10.35],[11.2,10.2],[11.32,10.55],[11.42,10.4],[10.6,9.95],[10.48,9.55],[10.72,9.72],[10.38,9.55],[10.28,9.38],[10.12,9.28],[9.92,9],[9.62,8.8],[9.42,8.62],[9.22,8.42],[7.85,9.7],[8.02,9.62],[8.3,9.75],[8.6,10.1],[8.75,10.15],[9.02,10.32],[9.18,10.42],[9.32,10.5],[9.5,10.6],[9.68,10.7],[9.82,10.78],[10.02,10.95],[7.1,9.2],[7.3,9.25],[7.55,9.4],[6.7,9.1]];

const coreF = [[7.97,7.87],[7.84,8.42],[7.91,8.96],[8.18,9.51],[8.51,10.05],[8.72,10.6],[9.26,11.14],[9.69,11.3],[10.1,11.42],[10.45,11.3],[10.23,10.6],[10.13,10.05],[9.59,9.51],[9.26,8.96],[8.83,8.42],[8.29,7.87]];
const dotsF = [[13.5,13.99],[13.15,13.73],[12.1,13.78],[12.92,13.6],[13.05,13.55],[12.68,13.68],[12.8,13.62],[13.12,13.48],[12.35,13.43],[12.55,13.45],[12.7,13.4],[12.62,13.3],[12.75,13.28],[12.1,13.3],[12.25,13.3],[11.85,13.5],[11.45,13.48],[12.9,12.79],[12.88,12.5],[12.95,12.35],[12.45,11.95],[12.3,11.92],[12.42,11.75],[12.1,12],[11.95,11.7],[12.58,12.9],[12.6,13.05],[12.45,12.85],[12.2,12.8],[12.35,12.65],[12.25,12.55],[12.05,12.65],[11.9,12.9],[11.75,13],[11.95,13.2],[11.6,13],[11.42,13.25],[11.35,13.15],[11.15,13],[11,13.1],[10.85,12.9],[10.65,12.7],[10.5,12.45],[10.65,12.95],[10.4,12.4],[10.5,12.2],[9.1,12.1],[9.5,12.1],[9.95,12.15],[9.82,12.4],[9.92,12.45],[10.15,12.4],[10.35,12.25],[11.25,12.95],[11.4,12.7],[11.1,12.7],[11.25,12.55],[11.55,12.5],[11.7,12.4],[11.85,12.3],[11.95,12.5],[11.65,12.1],[11.4,12],[11.5,11.75],[11.7,11.65],[11.55,11.4],[11.45,11.25],[11.25,11.2],[11.05,11.3],[11.15,11.55],[11.35,11.75],[11.15,11.95],[10.95,11.65],[10.8,11.85],[10.95,12.1],[10.75,12.25],[10.6,12],[10.45,11.8],[10.3,11.95],[10.1,12],[9.9,11.85],[9.7,11.8],[9.5,11.7],[9.7,11.5],[9.4,11.5],[9.1,11.45],[9.2,11.3],[10.9,11.35],[10.75,11.2],[10.6,11.5],[10.45,11.4],[10.8,10.95],[10.95,10.85],[11.1,10.75],[10.65,10.75],[10.5,10.9],[10.35,10.55],[10.55,10.3],[10.45,10],[10.85,10.4],[10.75,10.1],[10.85,9.95],[10.65,9.85],[10.4,9.7],[10.25,9.35],[10.5,9.4],[11.03,9.62],[10.2,9.05],[10.05,9.3],[9.9,9.45],[9.8,9.1],[9.95,8.9],[9.6,9.35],[9.55,8.85],[9.4,8.8],[9.45,8.4],[9.55,8.15],[9.6,7.85],[9.65,7],[9.05,7.05],[8.38,7.05],[9.22,6.75],[7.1,7.38],[8.4,7.42],[8.5,7.4],[8.85,8.05],[9.1,8.15],[8.6,8.2],[9.15,8.65],
[7.35,6.7],[7.4,7],[7.45,7.25],[7.42,7.55],[7.5,7.45],[7.55,7.1],[7.58,7.3],[7.62,7.6],[7.65,7.05],[7.68,7.35],[7.72,7.8],[7.75,7.5],[7.8,7.2],[7.45,8.15],[7.5,7.9],[7.75,8.1],[7.85,7.7],[7.95,7.45],[7.9,8.05],[8.08,7.7],[8.2,7.65],[7.72,8.45],[7.82,8.75],[7.9,8.85],[8.05,9.35],[8.1,9.7],[8.25,9.95],[8.4,10.2],[8.3,10.45],[8.5,10.4],[8.65,10.7],[8.6,10.15],[8.8,10.55],[8.9,10.85],[8.95,11],[9.05,10.9],[9.2,11.05],[9.5,11.2],[9.85,11.6],[10.05,11.55],[8.3,10.75],[8.9,11.1]];
const fringeF = [[7.45,7.7],[7.55,7.65],[7.6,7.85],[7.68,8],[7.72,7.55],[7.8,7.9],[7.82,8.2],[7.78,8.35],[7.82,8.55],[7.88,8.62],[7.85,8.95],[7.9,9.1],[7.95,9.2],[8,9.15],[8.05,9.5],[8.12,9.55],[8.15,9.7],[8.2,9.82],[8.28,9.75],[8.35,9.95],[8.42,9.95],[8.45,10.15],[8.52,10.25],[8.58,10.32],[8.62,10.5],[8.7,10.65],[8.78,10.72],[8.85,10.8],[8.95,10.92],[9.02,11.02],[9.1,11.02],[9.18,11.15],[9.25,11.25],[9.32,11.2],[9.38,11.32],[9.45,11.42],[9.55,11.45],[9.62,11.55],[9.72,11.55],[9.78,11.65],[9.88,11.55],[9.98,11.72],[10.08,11.68],[10.18,11.75],[10.28,11.6],[10.38,11.65],[10.48,11.58],[10.55,11.7],[10.62,11.62],[10.68,11.45],[10.72,11.7],[10.82,11.55],
[10.5,11.25],[10.58,11.1],[10.4,11.05],[10.5,10.7],[10.4,10.5],[10.32,10.35],[10.28,10.15],[10.38,9.95],[10.18,9.95],[10.12,9.75],[10.05,9.65],[9.98,9.82],[9.88,9.62],[9.78,9.48],[9.75,9.25],[9.65,9.2],[9.55,9.25],[9.48,9.08],[9.38,9],[9.3,8.75],[9.22,8.8],[9.12,8.65],[9.02,8.55],[8.95,8.3],[8.88,8.25],[8.78,8.18],[8.7,8.05],[8.62,8.1],[8.52,7.95],[8.45,7.85],[8.38,7.78],[8.28,7.72],[8.12,7.58],[8.05,7.6],[7.98,7.72],
[10,12],[10.02,11.85],[10.12,11.85],[10.22,12.05],[10.25,11.9],[10.32,11.75],[10.42,12.05],[10.48,11.95],[10.55,12.15],[10.58,11.85],[10.65,11.9],[10.7,12.1],[10.72,11.55],[10.78,12],[10.82,12.35],[10.88,12.05],[10.92,11.9],[10.98,11.8],[11.02,12.02],[11.05,11.72],[11.08,11.85],[11.12,12.2],[11.2,11.8],[11.22,12.05],[11.28,11.95],[11.32,11.7],[11.38,12.2],[11.42,11.9],[11.48,12],[11.52,12.2],[11.58,11.85],[11.62,12.3],[11.72,12.15],[11.8,12.55],[11.88,12.2],[11.98,12.1],[12.05,12.3],[12.12,12.55],[12.2,12.2],[12.28,12.9],[12.3,12.7],[12.42,12.65],[12.48,12.75],[12.52,13.05],[12.65,12.95],[11.85,12.75],[11.68,12.8],[11.55,12.9],[11.48,13],[11.32,12.85],[11.2,12.35],[11.05,12.45],[10.95,12.55],[10.82,12.6],[10.72,12.5],[10.55,12.6],[10.68,11.3],[10.78,11.05],[10.88,11.15],[11,11.45],[11.12,11.15],[10.92,11.05],[10.95,10.55],[10.68,10.45],[10.62,10.25],[10.55,10.05],[10.7,9.98],[10.45,9.75],[10.3,9.6],[10.18,9.45],[10.1,9.35],[10,9.35],[9.88,9.2],[9.78,9],[9.7,8.88],[9.42,8.6],[9.32,8.45],[9.2,8.25],[9.05,8.3]];
const extraF = [[10.5,11.4],[10.62,11.35],[10.72,11.42],[10.85,11.2],[10.98,11.22],[11.05,11.12],[11.18,11.32],[11.3,11.4],[11.38,11.52],[11.22,11.65],[11.3,11.85],[11.02,11.52],[10.88,11.75],[10.98,11.95],[11.05,11.9],[10.7,11.85],[10.62,12.2],[10.4,12.15],[10.28,12.2],[10.18,12.2],[10.12,12.12],[11.42,12.2],[11.55,12.05],[11.6,11.7],[11.72,11.95],[11.82,12],[11.78,11.78],[11.62,11.55],[11.45,11.55],[11.9,12.15],[12.1,12.15],[12.18,12.4],[12.3,12.3],[12.45,12.45],[12.5,12.55],[12.58,12.7],[11.95,12.75],[11.78,12.6],[11.62,12.62],[11.45,12.55],[11.32,12.4],[11.18,12.5],[10.9,12.3],[10.95,12.75],[10.78,12.75],[10.65,12.45],[10.32,11.3],[10.38,10.85],[10.62,10.9],[10.72,10.65],[10.85,10.65],[10.58,10.55],[10.48,10.25],[10.62,10.02],[10.32,9.75],[10.22,9.7],[10.35,9.45],[10,9.1],[9.85,9.35],[9.7,9.12],[9.5,8.9],[9.3,8.55],[9.08,8.45]];

const panels = [
  { letter: "A", note: null, dots: [...dotsA, ...fringeA, ...extraA], core: coreA, xRange: rangeA, yRange: rangeM, xTitle: "A (½ log₂ K562 + ½ log₂ pool)", yTitle: "M (log₂ [K562 / pool])" },
  { letter: "B", note: null, dots: [...dotsB, ...fringeB, ...extraB], core: coreB, xRange: rangeA, yRange: rangeM, xTitle: "A (½ log₂ K562 + ½ log₂ pool)", yTitle: "M (log₂ [K562 / pool])" },
  { letter: "C", note: "r = 0.88", dots: [...dotsC, ...fringeC, ...extraC], core: coreC, xRange: rangeM, yRange: rangeM, xTitle: "M (cDNA target)", yTitle: "M (aRNA target, 1 round)" },
  { letter: "D", note: "r = 0.86", dots: [...dotsD, ...fringeD, ...extraD], core: coreD, xRange: rangeM, yRange: rangeM, xTitle: "M (aRNA target, 1 round)", yTitle: "M (aRNA target, 2 rounds)" },
  { letter: "E", note: "r = 0.85", dots: [...dotsE, ...fringeE, ...extraE], core: coreE, xRange: rangeA, yRange: rangeA, xTitle: "A (cDNA target)", yTitle: "A (aRNA target, 1 round)" },
  { letter: "F", note: "r = 0.89", dots: [...dotsF, ...fringeF, ...extraF], core: coreF, xRange: rangeA, yRange: rangeA, xTitle: "A (aRNA target, 1 round)", yTitle: "A (aRNA target, 2 rounds)" },
];

// where each panel sits on the page: canvas box, plot area inside it, label sizes
const layouts = [
  { left: 0, top: 0, plotLeft: 128, plotTop: 43, plotH: 407, gap: 0, box: true, tickFont: 22.5, tickPad: 15, xPad: 9, titleX: 29, titleY: 14, letterX: 19, letterY: 35 },
  { left: 600, top: 0, plotLeft: 138, plotTop: 43, plotH: 407, gap: 0, box: true, tickFont: 22.5, tickPad: 15, xPad: 9, titleX: 39, titleY: 14, letterX: 31, letterY: 35 },
  { left: 0, top: 610, plotLeft: 128, plotTop: 43, plotH: 408, gap: 7.5, box: false, tickFont: 18.5, tickPad: 12.5, xPad: 8, titleX: 37, titleY: 14, letterX: 19, letterY: 35 },
  { left: 600, top: 610, plotLeft: 138, plotTop: 43, plotH: 408, gap: 7.5, box: false, tickFont: 18.5, tickPad: 12.5, xPad: 8, titleX: 48, titleY: 14, letterX: 30, letterY: 35 },
  { left: 0, top: 1220, plotLeft: 128, plotTop: 44, plotH: 408, gap: 8, box: false, tickFont: 18.5, tickPad: 12.5, xPad: 8, titleX: 31, titleY: 12, letterX: 21, letterY: 37 },
  { left: 600, top: 1220, plotLeft: 138, plotTop: 44, plotH: 408, gap: 8, box: false, tickFont: 18.5, tickPad: 12.5, xPad: 8, titleX: 43, titleY: 12, letterX: 33, letterY: 37 },
];

const INK = "#111";
const FONT = '"DejaVu Sans", sans-serif';
const TITLE_SIZE = 25;
const PLOT_W = 408;
const TICK = 11;

// axis lines and tick marks, pushed away from the plot area when gap is set
const axisLines = {
  id: "axisLines",
  afterDraw(chart, args, opts) {
    const { ctx, chartArea: a, scales } = chart;
    const xLine = a.bottom + opts.gap;
    const yLine = a.left - opts.gap;
    ctx.save();
    ctx.strokeStyle = INK;
    ctx.lineWidth = 1.3;
    ctx.beginPath();
    ctx.moveTo(a.left, xLine);
    ctx.lineTo(a.right, xLine);
    ctx.moveTo(yLine, a.top);
    ctx.lineTo(yLine, a.bottom);
    if (opts.box) {
      ctx.moveTo(a.left, a.top);
      ctx.lineTo(a.right, a.top);
      ctx.lineTo(a.right, a.bottom);
    }
    scales.x.ticks.forEach((t) => {
      const px = scales.x.getPixelForValue(t.value);
      ctx.moveTo(px, xLine);
      ctx.lineTo(px, xLine + TICK);
    });
    scales.y.ticks.forEach((t) => {
      const py = scales.y.getPixelForValue(t.value);
      ctx.moveTo(yLine, py);
      ctx.lineTo(yLine - TICK, py);
    });
    ctx.stroke();
    ctx.restore();
  },
};

// panel letter and correlation note
const panelNotes = {
  id: "panelNotes",
  afterDraw(chart, args, opts) {
    const { ctx, chartArea: a } = chart;
    ctx.save();
    ctx.fillStyle = INK;
    ctx.textAlign = "left";
    ctx.textBaseline = "alphabetic";
    ctx.font = "28px " + FONT;
    ctx.fillText(opts.letter, opts.letterX, opts.letterY);
    if (opts.note) {
      ctx.font = "25px " + FONT;
      ctx.fillText(opts.note, a.left + 8.5, a.top + 25);
    }
    ctx.restore();
  },
};

panels.forEach((p, i) => {
  const l = layouts[i];
  const canvas = document.createElement("canvas");
  canvas.width = 590;
  canvas.height = 580;
  canvas.style.left = l.left + "px";
  canvas.style.top = l.top + "px";
  document.body.appendChild(canvas);

  new Chart(canvas, {
    type: "scatter",
    data: {
      datasets: [
        {
          data: [...p.core, p.core[0]],
          showLine: true,
          fill: "shape",
          backgroundColor: "#000",
          borderColor: "#000",
          borderWidth: 5,
          pointRadius: 0,
        },
        {
          data: p.dots,
          backgroundColor: "#000",
          borderWidth: 0,
          pointRadius: 1.75,
        },
      ],
    },
    options: {
      responsive: false,
      animation: false,
      events: [],
      layout: {
        padding: { left: 0, right: canvas.width - l.plotLeft - PLOT_W, top: l.plotTop, bottom: 0 },
      },
      plugins: {
        legend: { display: false },
        tooltip: { enabled: false },
        axisLines: { gap: l.gap, box: l.box },
        panelNotes: { letter: p.letter, note: p.note, letterX: l.letterX, letterY: l.letterY },
      },
      scales: {
        x: {
          min: p.xRange[0],
          max: p.xRange[1],
          afterFit: (s) => { s.height = canvas.height - l.plotTop - l.plotH; },
          grid: { display: false },
          border: { display: false },
          ticks: {
            stepSize: 2,
            autoSkip: false,
            maxRotation: 0,
            color: INK,
            font: { family: FONT, size: l.tickFont },
            padding: l.gap + TICK + l.xPad,
          },
          title: {
            display: true,
            text: p.xTitle,
            color: INK,
            font: { family: FONT, size: TITLE_SIZE },
            padding: { top: 0, bottom: l.titleY },
          },
        },
        y: {
          min: p.yRange[0],
          max: p.yRange[1],
          afterFit: (s) => { s.width = l.plotLeft; },
          grid: { display: false },
          border: { display: false },
          ticks: {
            stepSize: 2,
            autoSkip: false,
            color: INK,
            font: { family: FONT, size: l.tickFont },
            padding: l.gap + TICK + l.tickPad,
          },
          title: {
            display: true,
            text: p.yTitle,
            color: INK,
            font: { family: FONT, size: TITLE_SIZE },
            padding: { top: l.titleX - TITLE_SIZE * 0.6, bottom: 0 },
          },
        },
      },
    },
    plugins: [axisLines, panelNotes],
  });
});
</script>
</body>
</html>
